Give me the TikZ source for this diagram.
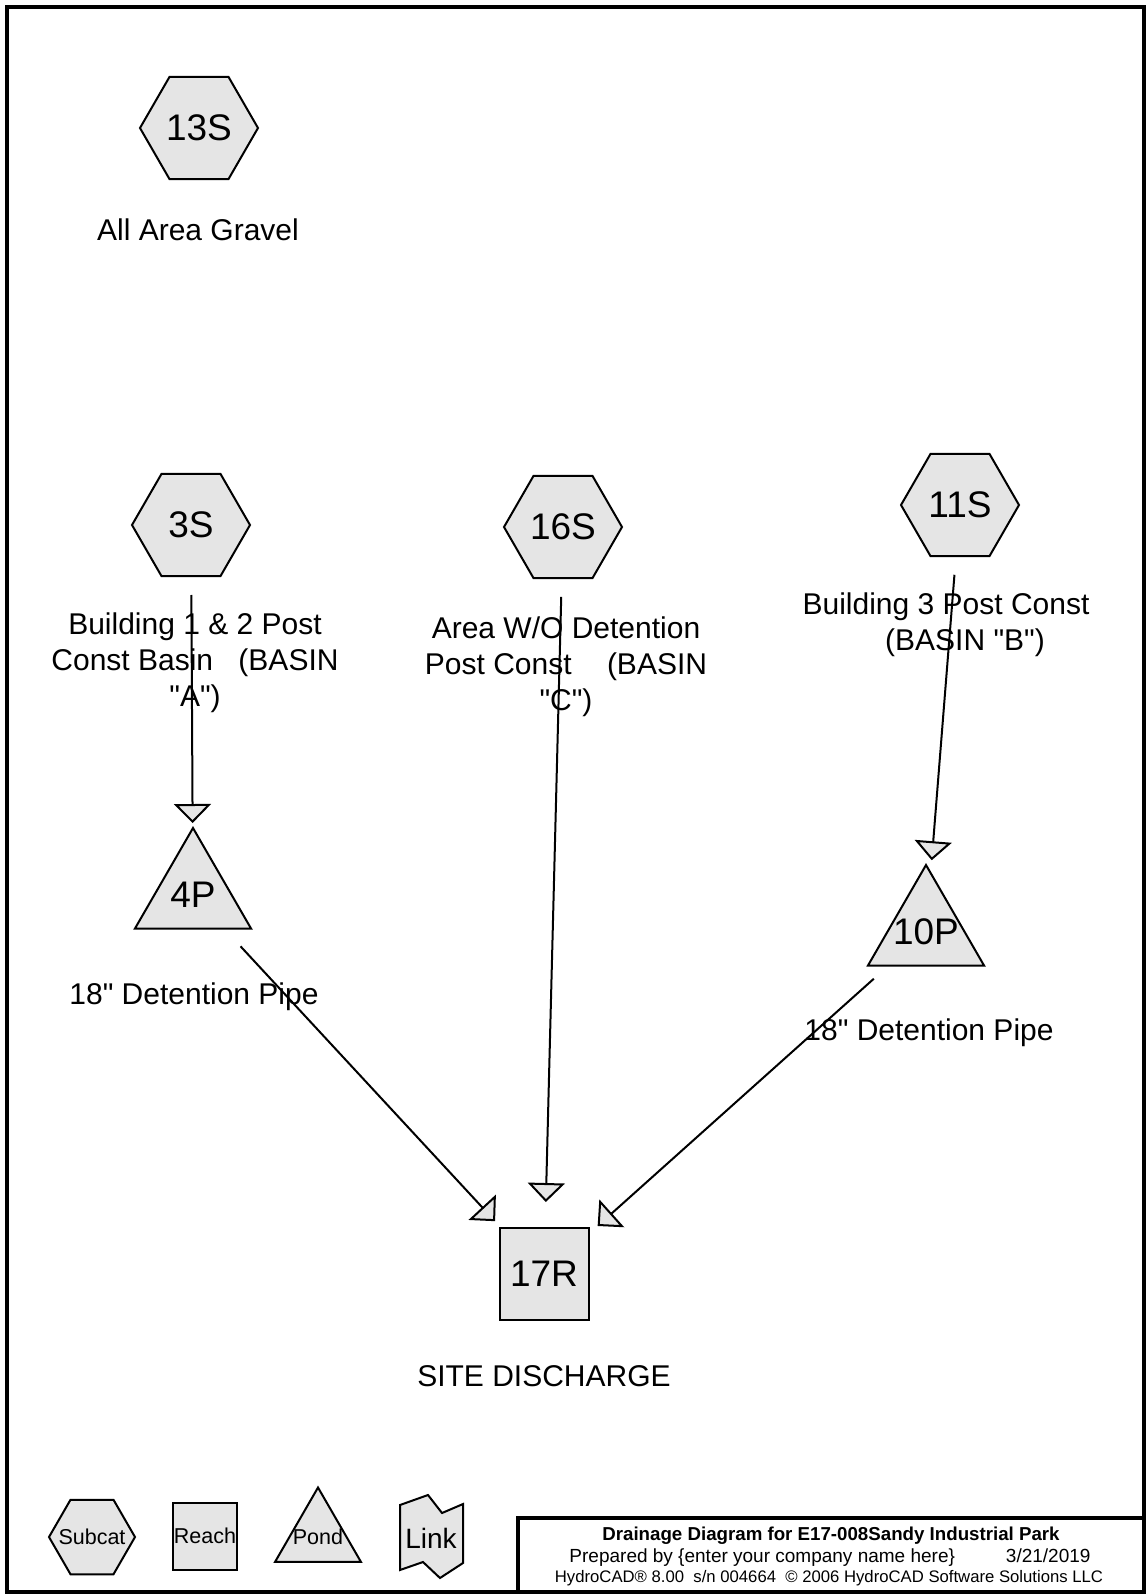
\documentclass[tikz,border=0pt]{standalone}
\usepackage{fontspec}
\setmainfont{Liberation Sans}[Ligatures=TeXOff]
\usetikzlibrary{shapes.geometric,arrows.meta}
\definecolor{shapegray}{gray}{0.9}

\begin{document}
\begin{tikzpicture}[x=1pt,y=-1pt,
    shp/.style={draw,line width=2pt,fill=shapegray,inner sep=0pt},
    subcat/.style={shp,regular polygon,regular polygon sides=6,minimum size=118pt,font=\fontsize{37}{44}\selectfont},
    pond/.style={shp,regular polygon,regular polygon sides=3,minimum size=134pt,font=\fontsize{37}{44}\selectfont},
    reach/.style={shp,minimum width=89pt,minimum height=92pt,font=\fontsize{37}{44}\selectfont},
    caption/.style={align=center,inner sep=0pt,font=\fontsize{30}{36}\selectfont},
    key/.style={inner sep=0pt,font=\fontsize{21.5}{26}\selectfont},
    flow/.style={line width=2pt,shorten <=70pt,shorten >=72pt,-{Triangle[width=37pt,length=19pt,fill=shapegray]}}]
  \useasboundingbox (0,0) rectangle (1146,1594);
  \draw[line width=3.5pt] (7,7) rectangle (1144,1592);

  % subcatchments
  \node[subcat] (s13) at (199,128) {13S};
  \node[caption] (s13t) at (198,230) {All Area Gravel};
  \node[subcat] (s3) at (191,525) {3S};
  \node[caption] (s3t) at (195,663) {Building 1 \& 2 Post\\Const Basin \hspace{17pt}(BASIN\\"A")};
  \node[subcat] (s16) at (563,527) {16S};
  \node[caption] (s16t) at (566,667) {Area W/O Detention\\Post Const \hspace{27pt}(BASIN\\"C")};
  \node[subcat] (s11) at (960,505) {11S};
  \node[caption] (s11t) at (946,625) {Building 3 Post Const\\\hspace*{38pt}(BASIN "B")};

  % ponds and reach
  \node[pond] (p4) at (193,895) {\makebox[0pt]{4P}};
  \node[caption] (p4t) at (194,997) {18" Detention Pipe};
  \node[pond] (p10) at (926,932) {\makebox[0pt]{10P}};
  \node[caption] (p10t) at (929,1033) {18" Detention Pipe};
  \node[reach] (r17) at (544,1274) {17R};
  \node[caption] (r17t) at (544,1376) {SITE DISCHARGE};

  \draw[flow] (s3.center) -- (p4.center);
  \draw[flow] (s16.center) -- (r17.center);
  \draw[flow] (s11.center) -- (p10.center);
  \draw[flow] (p4.center) -- (r17.center);
  \draw[flow] (p10.center) -- (r17.center);

  % legend
  \node[subcat,minimum size=86pt,key] (lsub) at (92,1537) {\makebox[0pt]{Subcat}};
  \node[reach,minimum width=64pt,minimum height=67pt,key] (lreach) at (205,1536) {\makebox[0pt]{Reach}};
  \node[pond,minimum size=99pt,key] (lpond) at (318,1537) {\makebox[0pt]{Pond}};
  \draw[shp] (400,1505) -- (428,1495) -- (442,1513) -- (463,1504) -- (463,1563)
    -- (440,1578) -- (423,1562) -- (400,1570) -- cycle;
  \node[key,font=\fontsize{28}{34}\selectfont] (llink) at (431,1538) {Link};

  % title block
  \draw[line width=3.5pt] (518,1518) rectangle (1144,1592);
  \node[inner sep=0pt,font=\bfseries\fontsize{18.7}{22}\selectfont] (ttl) at (831,1536) {Drainage Diagram for E17-008Sandy Industrial Park};
  \node[inner sep=0pt,font=\fontsize{19}{23}\selectfont] (prep) at (830,1558) {Prepared by \{enter your company name here\}\hspace{51pt}3/21/2019};
  \node[inner sep=0pt,font=\fontsize{16.7}{20}\selectfont] (ver) at (829,1578) {HydroCAD® 8.00\ \ s/n 004664\ \ © 2006 HydroCAD Software Solutions LLC};
\end{tikzpicture}
\end{document}
